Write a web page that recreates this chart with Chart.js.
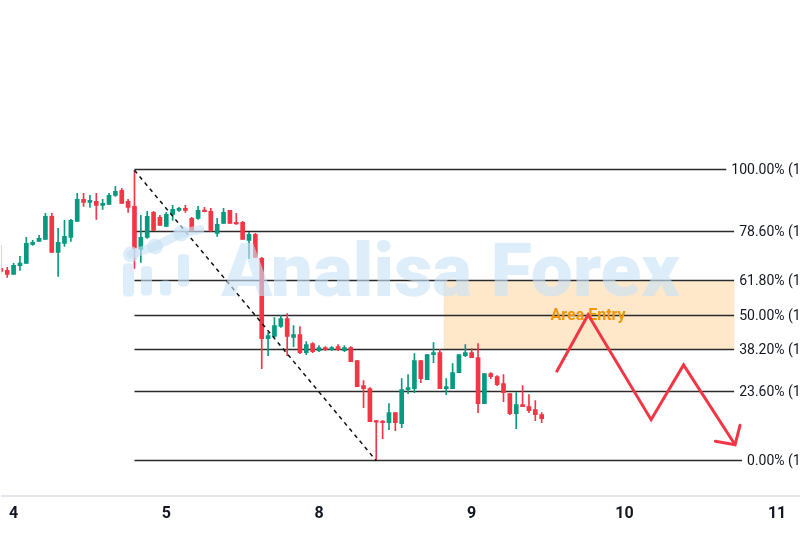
<!DOCTYPE html>
<html>
<head>
<meta charset="utf-8">
<script src="https://cdn.jsdelivr.net/npm/chart.js@4.4.1/dist/chart.umd.min.js"></script>
<style>
html,body{margin:0;padding:0;background:#fff}
#wrap{width:800px;height:533px;position:relative}
</style>
</head>
<body>
<div id="wrap"><canvas id="grafico"></canvas></div>
<script>
// candle per jam, jam 0 = awal hari "4"
const jam = [-2,-1,0,1,2,3,4,5,6,7,8,9,10,11,12,13,14,15,16,17,18,19,20,21,22,23,24,25,26,27,28,29,30,31,32,33,34,35,36,37,38,39,40,41,42,43,44,45,46,47,48,49,50,51,52,53,54,55,56,57,58,59,60,61,62,63,64,65,66,67,68,69,70,71,72,73,74,75,76,77,78,79,80,81,82,83]
const buka = [1.2692,1.2690,1.2686,1.26947,1.2697,1.2716,1.2719,1.2721,1.2744,1.2708,1.2717,1.2723,1.2739,1.2761,1.2758,1.2759,1.2755,1.2756,1.2765,1.2770,1.2759,1.2754,1.2711,1.2723,1.2748,1.2743,1.2734,1.2746,1.2750,1.2752,1.2742,1.2742,1.27503,1.2749,1.2727,1.2737,1.2750,1.2738,1.2738,1.2720,1.2726,1.2702,1.2622,1.2624,1.2634,1.2642,1.2623,1.2626,1.2608,1.2617,1.2610,1.2613,1.2611,1.2614,1.2610,1.2613,1.2600,1.2575,1.2572,1.2540,1.2539,1.2538,1.2548,1.2537,1.2571,1.2572,1.2600,1.2581,1.2606,1.2608,1.2572,1.2572,1.2588,1.2605,1.2608,1.2603,1.2557,1.2587,1.2584,1.2577,1.2567,1.2547,1.2556,1.2554,1.2551,1.2546]
const tinggi = [1.2715,1.2693,1.2697,1.2704,1.2723,1.2720,1.2725,1.2747,1.2747,1.2732,1.2740,1.2741,1.2767,1.2767,1.2765,1.2767,1.2761,1.2767,1.2774,1.2772,1.2761,1.2790,1.2745,1.2749,1.2749,1.2745,1.2748,1.2755,1.2753,1.2755,1.2743,1.2754,1.2753,1.2752,1.2742,1.2752,1.2750,1.2747,1.2739,1.2728,1.2727,1.2703,1.2628,1.2643,1.2645,1.2647,1.2635,1.2634,1.2619,1.2618,1.2615,1.2614,1.2614,1.2616,1.2615,1.2614,1.2600,1.2580,1.2573,1.2540,1.2540,1.2557,1.2548,1.2582,1.2586,1.2607,1.2600,1.2606,1.2618,1.2611,1.2582,1.2597,1.2606,1.2616,1.2612,1.2617,1.2587,1.2588,1.2585,1.2586,1.2567,1.2568,1.2575,1.2566,1.2560,1.2548]
const rendah = [1.2687,1.2683,1.2686,1.2690,1.2697,1.2715,1.2719,1.2721,1.2708,1.2684,1.2714,1.2719,1.2739,1.2754,1.2753,1.2741,1.2751,1.2756,1.2764,1.2757,1.2748,1.2692,1.2698,1.2722,1.2730,1.2735,1.2734,1.2740,1.2749,1.2748,1.2729,1.2741,1.27485,1.2729,1.2724,1.2737,1.2737,1.2736,1.2721,1.2702,1.2703,1.2592,1.2605,1.2623,1.2633,1.2605,1.2614,1.2607,1.2606,1.2608,1.2609,1.2610,1.2610,1.2610,1.2609,1.2599,1.2574,1.2553,1.2539,1.2501,1.2522,1.2531,1.2530,1.2533,1.2567,1.2568,1.2578,1.2581,1.2598,1.2572,1.2566,1.2572,1.2588,1.2604,1.2603,1.2548,1.2557,1.2582,1.2575,1.2559,1.2546,1.2532,1.2554,1.2548,1.2540,1.2538]
const tutup = [1.2689,1.2686,1.2695,1.26973,1.2717,1.2718,1.2722,1.2744,1.2708,1.2718,1.2724,1.2740,1.2761,1.2758,1.2760,1.2755,1.2757,1.2765,1.2769,1.2757,1.2753,1.2712,1.2723,1.2744,1.2730,1.2735,1.2746,1.2751,1.2752,1.2750,1.2730,1.2750,1.27487,1.2730,1.2736,1.2748,1.2737,1.27365,1.2721,1.2726,1.2703,1.2622,1.2625,1.2635,1.2642,1.2624,1.2626,1.2608,1.2616,1.2609,1.2613,1.2611,1.2613,1.2611,1.2613,1.2599,1.2574,1.2572,1.2539,1.25385,1.2538,1.2548,1.2538,1.2571,1.2573,1.2600,1.2582,1.2606,1.2608,1.2572,1.2574,1.2588,1.2606,1.2608,1.2603,1.2557,1.2587,1.2584,1.2576,1.2568,1.2547,1.2556,1.2554,1.2550,1.2546,1.2542]

const labelHari = ['4','5','8','9','10','11']
const posisiHari = [0,24,48,72,96,120]

const fibLevel = [1, 0.786, 0.618, 0.5, 0.382, 0.236, 0]
const fibHigh = 1.2790
const fibLow = 1.2500
const fibMulai = 19
const fibLabelJam = 112.8

const garisPutus = [{x:19, y:1.2790}, {x:57, y:1.2500}]
const zigzag = [{x:85.3, y:1.25883}, {x:90.3, y:1.26457}, {x:100.2, y:1.2541}, {x:105.3, y:1.25957}, {x:113.4, y:1.2516}]
const areaEntry = {dari:67.6, sampai:113.3, bawah:0.382, atas:0.618}

const hijau = '#089981'
const merah = '#F23645'

function warnaCandle(ctx){
    const i = ctx.dataIndex
    return tutup[i] >= buka[i] ? hijau : merah
}

function teksFib(lvl){
    const harga = fibLow + (fibHigh - fibLow) * lvl
    return (lvl * 100).toFixed(2) + '% (' + harga.toFixed(4) + ')'
}

const pluginFibo = {
    id: 'fibo',
    beforeDatasetsDraw(chart){
        const {ctx, scales:{x, y}} = chart
        const rentang = fibHigh - fibLow
        ctx.save()
        // kotak area entry
        const ax0 = x.getPixelForValue(areaEntry.dari)
        const ax1 = x.getPixelForValue(areaEntry.sampai)
        const ay0 = y.getPixelForValue(fibLow + rentang * areaEntry.atas)
        const ay1 = y.getPixelForValue(fibLow + rentang * areaEntry.bawah)
        ctx.fillStyle = 'rgba(255,222,180,0.7)'
        ctx.fillRect(ax0, ay0, ax1 - ax0, ay1 - ay0)
        // garis fibo + label
        ctx.font = '14px Roboto'
        ctx.textAlign = 'right'
        ctx.textBaseline = 'middle'
        const kanan = x.getPixelForValue(fibLabelJam) + ctx.measureText(teksFib(1)).width
        const xMulai = x.getPixelForValue(fibMulai)
        fibLevel.forEach(lvl => {
            const py = Math.round(y.getPixelForValue(fibLow + rentang * lvl)) - 0.5
            const t = teksFib(lvl)
            const awalTeks = kanan - ctx.measureText(t).width
            ctx.strokeStyle = '#2b2b2b'
            ctx.lineWidth = 1.3
            ctx.beginPath()
            ctx.moveTo(xMulai, py)
            ctx.lineTo(awalTeks - 5, py)
            ctx.stroke()
            ctx.fillStyle = '#131722'
            ctx.fillText(t, kanan, py + 1)
        })
        // teks area entry
        ctx.font = 'bold 16px Roboto'
        ctx.textAlign = 'center'
        ctx.fillStyle = '#F0960E'
        ctx.fillText('Area Entry', x.getPixelForValue(zigzag[1].x), y.getPixelForValue(fibLow + rentang * 0.5))
        ctx.restore()
    },
    afterDatasetsDraw(chart){
        const {ctx, scales:{x, y}} = chart
        ctx.save()
        // kepala panah
        const a = zigzag[zigzag.length - 2], b = zigzag[zigzag.length - 1]
        const x1 = x.getPixelForValue(a.x), y1 = y.getPixelForValue(a.y)
        const x2 = x.getPixelForValue(b.x), y2 = y.getPixelForValue(b.y)
        const sudut = Math.atan2(y1 - y2, x1 - x2)
        const pj = 20
        ctx.strokeStyle = merah
        ctx.lineWidth = 3
        ctx.lineCap = 'round'
        ctx.beginPath()
        ctx.moveTo(x2 + pj * Math.cos(sudut - 0.82), y2 + pj * Math.sin(sudut - 0.82))
        ctx.lineTo(x2, y2)
        ctx.lineTo(x2 + pj * Math.cos(sudut + 0.82), y2 + pj * Math.sin(sudut + 0.82))
        ctx.stroke()

        // watermark
        const w = chart.width, h = chart.chartArea.bottom
        ctx.fillStyle = 'rgba(200,226,246,0.62)'
        ctx.strokeStyle = 'rgba(200,226,246,0.62)'
        ctx.font = '900 100px Roboto'
        const lebar = ctx.measureText('Analisa Forex').width
        const ukuran = 100 * (w * 0.573) / lebar
        ctx.font = '900 ' + ukuran + 'px Roboto'
        ctx.textAlign = 'left'
        ctx.textBaseline = 'alphabetic'
        ctx.fillText('Analisa Forex', w * 0.277, h * 0.598)
        // logo
        const bar = (bx, by0, by1) => {
            ctx.beginPath()
            ctx.roundRect(bx, by0, 11, by1 - by0, 4)
            ctx.fill()
        }
        bar(123, h * 0.531, h * 0.598)
        bar(141, h * 0.537, h * 0.596)
        bar(160, h * 0.566, h * 0.596)
        bar(178, h * 0.513, h * 0.578)
        ctx.lineWidth = 9
        ctx.lineJoin = 'round'
        ctx.beginPath()
        ctx.moveTo(131, h * 0.513)
        ctx.lineTo(155, h * 0.497)
        ctx.lineTo(181, h * 0.471)
        ctx.lineTo(200, h * 0.463)
        ctx.stroke()
        ;[[131, 0.513], [155, 0.497], [181, 0.471]].forEach(p => {
            ctx.beginPath()
            ctx.arc(p[0], h * p[1], 8, 0, Math.PI * 2)
            ctx.fill()
        })
        ctx.restore()
    }
}

const dataBody = jam.map((j, i) => ({x: j, y: [buka[i], tutup[i]]}))
const dataSumbu = jam.map((j, i) => ({x: j, y: [rendah[i], tinggi[i]]}))

const grafico = new Chart(document.getElementById('grafico').getContext('2d'), {
    type: 'bar',
    data: {
        datasets: [
            {
                type: 'line',
                data: zigzag,
                borderColor: merah,
                borderWidth: 3,
                pointRadius: 0,
                tension: 0,
                order: 0
            },
            {
                type: 'line',
                data: garisPutus,
                borderColor: '#111',
                borderWidth: 1.5,
                borderDash: [4, 4],
                pointRadius: 0,
                order: 1
            },
            {
                data: dataBody,
                backgroundColor: warnaCandle,
                barThickness: 4,
                minBarLength: 1.5,
                borderSkipped: false,
                grouped: false,
                order: 2
            },
            {
                data: dataSumbu,
                backgroundColor: warnaCandle,
                barThickness: 1,
                borderSkipped: false,
                grouped: false,
                order: 3
            }
        ]
    },
    plugins: [pluginFibo],
    options: {
        responsive: true,
        maintainAspectRatio: false,
        animation: false,
        layout: {padding: 0},
        plugins: {
            legend: {display: false},
            tooltip: {enabled: false}
        },
        scales: {
            x: {
                type: 'linear',
                min: -1.88,
                max: 123.6,
                offset: false,
                grid: {display: false, drawTicks: false},
                border: {display: true, color: '#e6e6ee', width: 2},
                afterBuildTicks: ax => { ax.ticks = posisiHari.map(v => ({value: v})) },
                ticks: {
                    autoSkip: false,
                    maxRotation: 0,
                    padding: 9,
                    color: '#131722',
                    font: {family: "'Liberation Sans Narrow', Roboto", size: 16, weight: 'bold'},
                    callback: v => {
                        const k = posisiHari.indexOf(v)
                        return k >= 0 ? labelHari[k] : ''
                    }
                }
            },
            y: {
                display: false,
                min: 1.2465,
                max: 1.2960
            }
        }
    }
})
</script>
</body>
</html>
